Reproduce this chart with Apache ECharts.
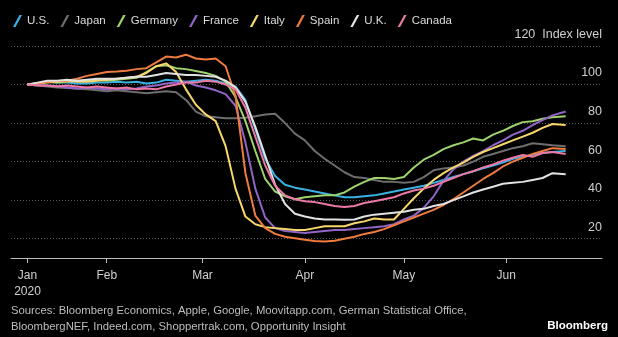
<!DOCTYPE html>
<html><head><meta charset="utf-8">
<script src="https://cdn.jsdelivr.net/npm/echarts@6/dist/echarts.min.js"></script>
<style>html,body{margin:0;padding:0;background:#000;}#c{width:618px;height:337px;}</style>
</head><body><div id="c"></div>
<script>
// day of year 2020 (Jan 1 = 0)
const days = [7,10,13,16,19,22,25,28,31,34,37,40,43,46,49,52,55,58,61,64,67,70,73,76,79,82,85,88,91,94,97,100,103,106,109,112,115,118,121,124,127,130,133,136,139,142,145,148,151,154,157,160,163,166,170];
const US = [100,100.5,101.5,101,101,100.5,100.5,101,101,101.5,101,101.5,100.5,101,102.5,102,101.5,102,102.5,102,100.5,99,92,77,61.5,52.5,48,46.5,45.5,44.5,43.5,42.5,41.5,41.5,42,42.5,43.5,44.5,45.5,46.5,47.5,49,50.5,52,53.5,55,56.5,58,59.5,61.5,62.5,63.5,64.5,65,65.5];
const Japan = [100,99.5,99,98.5,98.2,97.8,97.5,97,96.5,97,96.5,96,95.5,96,96.5,96,92,86,83.5,83,82.5,82.5,82.8,83.5,84.5,84.8,80,74.5,71,65.5,61.5,58,54.5,52,51.5,50.5,49.5,49.5,49,49.5,52,55.5,56.5,57,58,60,62.5,64,65.5,67,68,69.5,69,68.5,68];
const Germany = [100,100.5,101.5,101,101.5,102,102,102.5,102,102.5,103,103.5,106.5,109.5,110,108.5,108,107,106,104.5,101.5,93.5,81,65.5,51,44.5,42,40.5,41.5,42,42.5,42.5,44,47,49.5,51.5,51.5,51,52,57,61,63.5,66.5,68.5,70,72,71,74,76,78.5,80.5,81,82.3,83,83.5];
const France = [100,99.8,99.5,99.3,98.5,98,98.3,98,97.5,98,97.5,98,99,99.5,100.5,101,101.5,99.5,98.5,97,95,89,70,46,31,25.5,24,23.5,23,23.5,24,24.5,24.5,25,25.5,26,26.5,27.5,30,32,36,42,50,56,60,63,65.5,68.5,71,74,76,79,81.5,84,86];
const Italy = [100,100.5,101,101.5,102,101.5,101.5,102,102.5,103,103.5,104,106,109.5,111,106.5,97.5,89.5,84.5,81,68,46,31.5,27.5,26,25.5,25,24.5,24.5,25.5,26.5,26.5,26.5,28,29,30.5,30,30,35.5,41,46,50.5,54,57,59.5,62.5,65,67,69,71,73,75,77.5,79.5,79];
const Spain = [100,100.5,101.5,101.8,102,103,104.5,105.5,106.5,106.8,107.2,108,108.5,111.5,114.5,114,115.5,113.5,113,113.5,109.5,94,54,32,25.5,22.5,21,20.3,19.5,18.8,18.5,19,20,21,22.5,23.5,25,27,29,31,33,35,37.5,40.5,44,47.5,51,54,57.5,60,62,64,65.5,67,66.5];
const UK = [100,101,102,102,102.5,102,102.5,103,103,103,103.5,104,104,105,106,105.5,105,105,104.5,104,102,98.5,91,78,63,48,38,33,31.5,30.5,30,30,29.8,30,31.5,32.5,33,33.5,34,35,35.5,37,38,40,42,44,45.5,47,48.5,49,49.5,50.5,51.5,54,53.5];
const Canada = [100,99.5,99.5,99,99.5,99,98.5,99,98.5,98,98.5,97.5,98,97.5,99,100,101,101,102,101.5,100,97.5,88,73,58,47.5,42.5,40.5,39.5,39,38,37,36.5,37,38.5,39.5,40.5,41.5,43.5,45,46,47.5,49.5,51.5,53.5,55,57,58.5,60.5,62,63.5,62.5,64.5,65,64];

const seriesNames = ['U.S.','Japan','Germany','France','Italy','Spain','U.K.','Canada'];
const seriesData = [US, Japan, Germany, France, Italy, Spain, UK, Canada];
const colors = ['#3ab1e3','#6e6e6e','#9fd26c','#9065c6','#f7d66c','#ef7b3e','#e2e2e2','#ec79a5'];

const monthTicks = [7,31,60,91,121,152];
const monthLabels = ['Jan\n2020','Feb','Mar','Apr','May','Jun'];
const yTicks = [20,40,60,80,100,120];

const FONT = 'Liberation Sans, Arial, sans-serif';
const chart = echarts.init(document.getElementById('c'), null, {renderer:'canvas'});
const slash = 'path://M0,12 L6.5,0 L9,0 L2.5,12 Z';

chart.setOption({
  backgroundColor: '#000',
  animation: false,
  color: colors,
  legend: {
    left: 8, top: 10,
    itemWidth: 9, itemHeight: 12, itemGap: 11,
    icon: slash,
    textStyle: {color: '#dcdcdc', fontSize: 11.5, fontFamily: FONT},
    data: seriesNames
  },
  grid: {left: 11, right: 16, top: 46, bottom: 79},
  xAxis: {
    type: 'value', min: 2, max: 181,
    axisLine: {show: true, lineStyle: {color: '#bdbdbd', width: 1}},
    axisTick: {show: true, length: 5, customValues: monthTicks, lineStyle: {color: '#bdbdbd'}},
    splitLine: {show: false},
    axisLabel: {
      customValues: monthTicks, margin: 10, color: '#cfcfcf', fontSize: 12, fontFamily: FONT, lineHeight: 16,
      formatter: v => monthLabels[monthTicks.indexOf(Math.round(v))] || ''
    }
  },
  yAxis: {
    type: 'value', position: 'right', min: 10, max: 120, interval: 10,
    axisLine: {show: false}, axisTick: {show: false},
    splitLine: {show: true, lineStyle: {color: ['rgba(0,0,0,0)', '#5a5a5a'], type: [1, 2], width: 1}},
    axisLabel: {
      inside: true, margin: 0, verticalAlign: 'bottom', padding: [0, 0, 5, 0],
      color: '#cfcfcf', fontSize: 12.5, fontFamily: FONT,
      formatter: v => yTicks.indexOf(v) < 0 ? '' : (v === 120 ? '120  Index level' : String(v))
    }
  },
  series: seriesNames.map((n, i) => ({
    name: n, type: 'line', showSymbol: false, symbol: 'none',
    lineStyle: {width: 2, color: colors[i]},
    data: days.map((d, k) => [d, seriesData[i][k]])
  })),
  graphic: [
    {type: 'text', left: 11, top: 303, style: {text: 'Sources: Bloomberg Economics, Apple, Google, Moovitapp.com, German Statistical Office,\nBloombergNEF, Indeed.com, Shoppertrak.com, Opportunity Insight', fill: '#bdbdbd', font: '11.3px ' + FONT, lineHeight: 16}},
    {type: 'text', right: 10, top: 320, style: {text: 'Bloomberg', fill: '#ffffff', font: 'bold 11.5px ' + FONT}}
  ]
});
</script></body></html>
